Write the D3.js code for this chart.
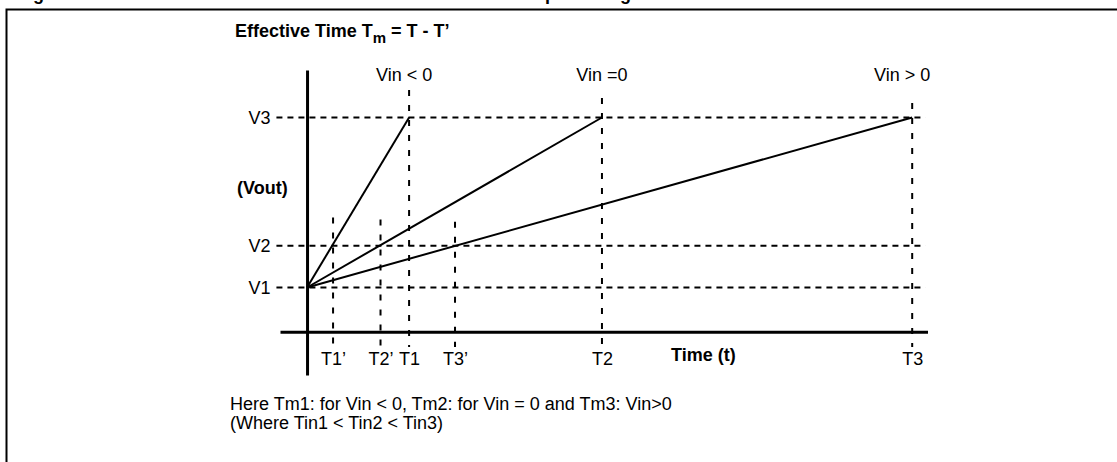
<!DOCTYPE html>
<html>
<head>
<meta charset="utf-8">
<script src="https://cdn.jsdelivr.net/npm/d3@7"></script>
<style>
    body { margin: 0; background: #fff; }
    svg text { font-family: "Liberation Sans", Arial, Helvetica, sans-serif; fill: #000; }
</style>
</head>
<body>
<div id="chart"></div>
<script>
// output levels (volts, arbitrary units)
var levelNames = ["V1", "V2", "V3"];
var levelValues = [1, 2, 5.08];

// time marks on the horizontal axis
var timeNames = ["T1\u2019", "T2\u2019", "T1", "T3\u2019", "T2", "T3"];
var timeValues = [0.255, 0.72, 1.0, 1.45, 2.89, 5.93];
// how high each dashed time guide reaches (in volts)
var timeGuideTops = [2.68, 2.63, 5.74, 2.58, 5.55, 5.43];

// the three ramps, all starting at t = 0, V1 and ending at V3
var rampNames = ["Vin < 0", "Vin =0", "Vin > 0"];
var rampEnds = [1.0, 2.89, 5.93];

var notes = [
    "Here Tm1: for Vin < 0, Tm2: for Vin = 0 and Tm3: Vin>0",
    "(Where Tin1 < Tin2 < Tin3)"
];

var w = 1117,
    h = 462;

var svg = d3.select("#chart").append("svg")
    .attr("width", w)
    .attr("height", h);

svg.append("rect")
    .attr("width", w)
    .attr("height", h)
    .attr("fill", "#fff");

// frame, with the caption above it cut off by the page edge
svg.append("text")
    .attr("x", 17)
    .attr("y", -0.5)
    .attr("font-size", 18)
    .attr("font-weight", "bold")
    .text("Figure 4.  Effective time of conversion for the three different input voltages");

svg.append("rect")
    .attr("x", 6.5)
    .attr("y", 9.5)
    .attr("width", w)
    .attr("height", h)
    .attr("fill", "none")
    .attr("stroke", "#000")
    .attr("stroke-width", 2);

var x = d3.scaleLinear()
        .domain([-0.265, 6.08])
        .range([280, 927.5]),
    y = d3.scaleLinear()
        .domain([-1.1, 6.22])
        .range([375, 70]);

var axisY = y(-0.06);

// dashed guides
var guides = svg.append("g")
    .attr("stroke", "#000")
    .attr("stroke-width", 2)
    .attr("fill", "none");

guides.selectAll(".hguide")
    .data(levelValues)
    .enter()
    .append("line")
    .classed("hguide", true)
    .attr("x1", x(-0.3))
    .attr("x2", x(6.06))
    .attr("y1", function (d) { return y(d); })
    .attr("y2", function (d) { return y(d); })
    .attr("stroke-dasharray", "6,5");

guides.selectAll(".vguide")
    .data(timeValues)
    .enter()
    .append("line")
    .classed("vguide", true)
    .attr("x1", function (d) { return x(d); })
    .attr("x2", function (d) { return x(d); })
    .attr("y1", function (d, i) { return y(timeGuideTops[i]); })
    .attr("y2", y(-0.43))
    .attr("stroke-dasharray", "6,9");

// ramps
svg.append("g")
    .selectAll("line")
    .data(rampEnds)
    .enter()
    .append("line")
    .attr("x1", x(0))
    .attr("y1", y(levelValues[0]))
    .attr("x2", function (d) { return x(d); })
    .attr("y2", y(levelValues[2]))
    .attr("stroke", "#000")
    .attr("stroke-width", 2);

var rampDx = [-5, 0, -10];
svg.append("g")
    .selectAll("text")
    .data(rampNames)
    .enter()
    .append("text")
    .attr("x", function (d, i) { return x(rampEnds[i]) + rampDx[i]; })
    .attr("y", 80.7)
    .attr("font-size", 18)
    .attr("text-anchor", "middle")
    .text(function (d) { return d; });

// axes
var xAxis = d3.axisBottom(x)
        .tickValues(timeValues)
        .tickFormat(function (d, i) { return timeNames[i]; })
        .tickSize(0)
        .tickSizeOuter(0)
        .tickPadding(20.5),
    yAxis = d3.axisLeft(y)
        .tickValues(levelValues)
        .tickFormat(function (d, i) { return levelNames[i]; })
        .tickSize(0)
        .tickSizeOuter(0)
        .tickPadding(36.5);

function styleAxis(g) {
    g.attr("font-size", 18)
        .attr("font-family", "Liberation Sans, Arial, Helvetica, sans-serif");
    g.select(".domain")
        .attr("stroke", "#000")
        .attr("stroke-width", 3);
    g.selectAll("text").attr("fill", "#000");
}

svg.append("g")
    .classed("axis x", true)
    .attr("transform", "translate(0," + axisY + ")")
    .call(xAxis)
    .call(styleAxis);

svg.append("g")
    .classed("axis y", true)
    .attr("transform", "translate(" + x(0) + ",0)")
    .call(yAxis)
    .call(styleAxis);

// axis titles
svg.append("text")
    .attr("x", 671)
    .attr("y", 361)
    .attr("font-size", 18)
    .attr("font-weight", "bold")
    .text("Time (t)");

svg.append("text")
    .attr("x", 237)
    .attr("y", 194)
    .attr("font-size", 18)
    .attr("font-weight", "bold")
    .text("(Vout)");

// chart header
var header = svg.append("text")
    .attr("x", 235)
    .attr("y", 36.5)
    .attr("font-size", 18)
    .attr("font-weight", "bold");
header.append("tspan").text("Effective Time T");
header.append("tspan")
    .attr("font-size", 15)
    .attr("dy", 6.5)
    .text("m");
header.append("tspan")
    .attr("dy", -6.5)
    .text(" = T - T\u2019");

svg.append("g")
    .selectAll("text")
    .data(notes)
    .enter()
    .append("text")
    .attr("x", 230)
    .attr("y", function (d, i) { return 410 + i * 19; })
    .attr("font-size", 18)
    .text(function (d) { return d; });
</script>
</body>
</html>
